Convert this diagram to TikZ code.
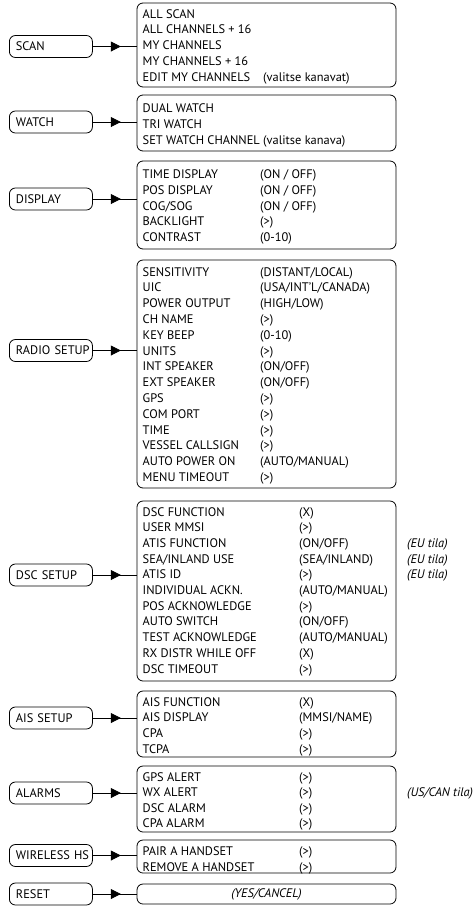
\documentclass[tikz,border=0pt]{standalone}
\usepackage{fontspec}
\setmainfont{PT Sans}
\usetikzlibrary{arrows.meta,decorations.markings}
\begin{document}
\begin{tikzpicture}[x=1pt,y=-1pt,
  every node/.style={font=\fontsize{12.4}{14}\selectfont, inner sep=0pt},
  keybox/.style={draw, rounded corners=6pt, line width=0.8pt, minimum width=83pt, minimum height=22pt, text width=70pt, inner xsep=6.5pt, align=left},
  menubox/.style={draw, rounded corners=6pt, line width=0.8pt, minimum width=259pt},
  item/.style={anchor=base west},
  note/.style={anchor=base west, font=\fontsize{12.4}{14}\selectfont\itshape},
  conn/.style={line width=0.8pt, postaction={decorate, decoration={markings, mark=at position 28pt with {\arrow{Triangle[length=10pt,width=10pt]}}}}}
]
\useasboundingbox (0,0) rectangle (476,906);

% left keys
\node[keybox, anchor=west] (scan) at (9,46.5) {\mbox{SCAN}};
\node[keybox, anchor=west] (watch) at (9,122) {\mbox{WATCH}};
\node[keybox, anchor=west] (disp) at (9,199) {\mbox{DISPLAY}};
\node[keybox, anchor=west] (radio) at (9,350.5) {\mbox{RADIO SETUP}};
\node[keybox, anchor=west] (dsc) at (9,575) {\mbox{DSC SETUP}};
\node[keybox, anchor=west] (ais) at (9,718) {\mbox{AIS SETUP}};
\node[keybox, anchor=west] (alarm) at (9,793) {\mbox{ALARMS}};
\node[keybox, anchor=west] (wire) at (9,855.5) {\mbox{WIRELESS HS}};
\node[keybox, anchor=west] (reset) at (9,894) {\mbox{RESET}};

% menu boxes
\node[menubox, minimum height=84pt] (scanM) at (266.5,45) {};
\node[menubox, minimum height=56pt] (watchM) at (266.5,123) {};
\node[menubox, minimum height=88pt] (dispM) at (266.5,205) {};
\node[menubox, minimum height=228pt] (radioM) at (266.5,374) {};
\node[menubox, minimum height=180pt] (dscM) at (266.5,591) {};
\node[menubox, minimum height=66pt] (aisM) at (266.5,724) {};
\node[menubox, minimum height=66pt] (alarmM) at (266.5,799) {};
\node[menubox, minimum height=33pt] (wireM) at (266.5,856.5) {};
\node[menubox, minimum height=20pt, font=\fontsize{12.4}{14}\selectfont\itshape] (resetM) at (266.5,894) {(YES/CANCEL)};

% connectors
\foreach \k in {scan,watch,disp,radio,dsc,ais,alarm,wire,reset}
  \draw[conn] (\k.east) -- (\k M.west |- \k.east);

% SCAN items
\foreach \t [count=\i from 0] in {ALL SCAN, ALL CHANNELS + 16, MY CHANNELS, MY CHANNELS + 16, EDIT MY CHANNELS}
  \node[item] (scanA\i) at (142.5,18+\i*15.9) {\t};
\node[item] (scanB) at (263,81.6) {(valitse kanavat)};

% WATCH items
\foreach \t [count=\i from 0] in {DUAL WATCH, TRI WATCH, SET WATCH CHANNEL (valitse kanava)}
  \node[item] (watchA\i) at (142.5,112.8+\i*15.8) {\t};

% DISPLAY items
\foreach \a/\b [count=\i from 0] in {{TIME DISPLAY}/{(ON / OFF)}, {POS DISPLAY}/{(ON / OFF)}, {COG/SOG}/{(ON / OFF)}, {BACKLIGHT}/{(>)}, {CONTRAST}/{(0-10)}}{
  \node[item] (dispA\i) at (142.5,178.2+\i*15.9) {\a};
  \node[item] (dispB\i) at (260,178.2+\i*15.9) {\b};
}

% RADIO SETUP items
\foreach \a/\b [count=\i from 0] in {{SENSITIVITY}/{(DISTANT/LOCAL)}, {UIC}/{(USA/INT'L/CANADA)}, {POWER OUTPUT}/{(HIGH/LOW)}, {CH NAME}/{(>)}, {KEY BEEP}/{(0-10)}, {UNITS}/{(>)}, {INT SPEAKER}/{(ON/OFF)}, {EXT SPEAKER}/{(ON/OFF)}, {GPS}/{(>)}, {COM PORT}/{(>)}, {TIME}/{(>)}, {VESSEL CALLSIGN}/{(>)}, {AUTO POWER ON}/{(AUTO/MANUAL)}, {MENU TIMEOUT}/{(>)}}{
  \node[item] (radioA\i) at (142.5,276+\i*15.8) {\a};
  \node[item] (radioB\i) at (260,276+\i*15.8) {\b};
}

% DSC SETUP items
\foreach \a/\b [count=\i from 0] in {{DSC FUNCTION}/{(X)}, {USER MMSI}/{(>)}, {ATIS FUNCTION}/{(ON/OFF)}, {SEA/INLAND USE}/{(SEA/INLAND)}, {ATIS ID}/{(>)}, {INDIVIDUAL ACKN.}/{(AUTO/MANUAL)}, {POS ACKNOWLEDGE}/{(>)}, {AUTO SWITCH}/{(ON/OFF)}, {TEST ACKNOWLEDGE}/{(AUTO/MANUAL)}, {RX DISTR WHILE OFF}/{(X)}, {DSC TIMEOUT}/{(>)}}{
  \node[item] (dscA\i) at (142.5,516+\i*15.7) {\a};
  \node[item] (dscB\i) at (299,516+\i*15.7) {\b};
}
\foreach \i in {2,3,4}
  \node[note] (dscN\i) at (407,516+\i*15.7) {(EU tila)};

% AIS SETUP items
\foreach \a/\b [count=\i from 0] in {{AIS FUNCTION}/{(X)}, {AIS DISPLAY}/{(MMSI/NAME)}, {CPA}/{(>)}, {TCPA}/{(>)}}{
  \node[item] (aisA\i) at (142.5,706+\i*15.8) {\a};
  \node[item] (aisB\i) at (299,706+\i*15.8) {\b};
}

% ALARMS items
\foreach \a/\b [count=\i from 0] in {{GPS ALERT}/{(>)}, {WX ALERT}/{(>)}, {DSC ALARM}/{(>)}, {CPA ALARM}/{(>)}}{
  \node[item] (alarmA\i) at (142.5,781+\i*15.5) {\a};
  \node[item] (alarmB\i) at (299,781+\i*15.5) {\b};
}
\node[note] (alarmN) at (407,796.5) {(US/CAN tila)};

% WIRELESS HS items
\foreach \a/\b [count=\i from 0] in {{PAIR A HANDSET}/{(>)}, {REMOVE A HANDSET}/{(>)}}{
  \node[item] (wireA\i) at (142.5,855.8+\i*15.5) {\a};
  \node[item] (wireB\i) at (299,855.8+\i*15.5) {\b};
}
\end{tikzpicture}
\end{document}
